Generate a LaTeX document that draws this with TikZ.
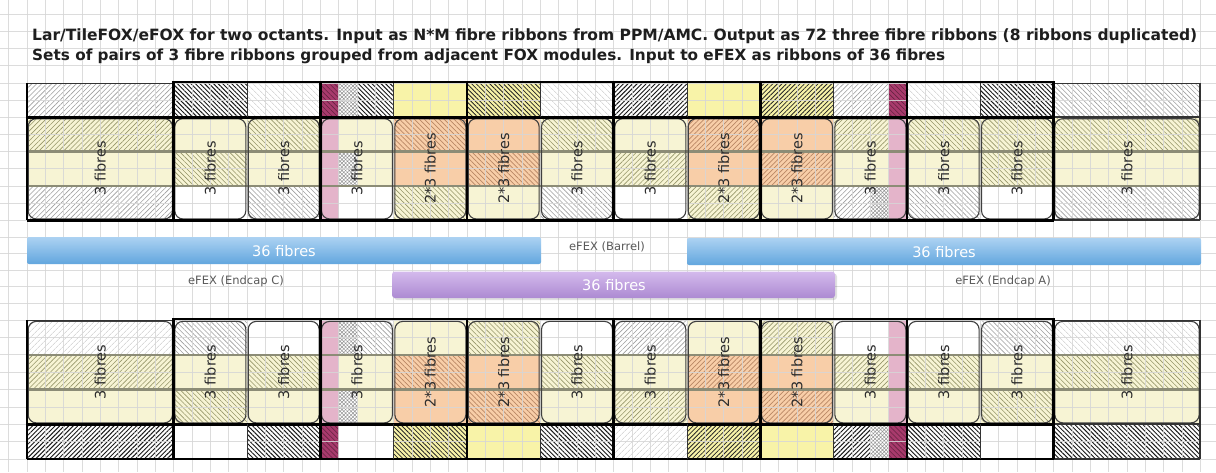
\documentclass[tikz,border=0pt]{standalone}
\usepackage{graphicx}
\usepackage{fontspec}
\setmainfont{DejaVu Sans}
\usetikzlibrary{patterns,patterns.meta}

\definecolor{cream}{RGB}{247,244,212}
\definecolor{yel}{RGB}{248,243,168}
\definecolor{ora}{RGB}{248,206,168}
\definecolor{pinkd}{RGB}{168,58,108}
\definecolor{pinkl}{RGB}{228,180,202}
\definecolor{gridc}{RGB}{214,214,214}
\definecolor{oliveh}{RGB}{150,150,105}
\definecolor{brownh}{RGB}{185,135,100}
\definecolor{sepc}{RGB}{140,140,118}
\definecolor{blueT}{RGB}{172,210,242}
\definecolor{blueB}{RGB}{98,166,222}
\definecolor{purT}{RGB}{212,186,236}
\definecolor{purB}{RGB}{172,138,210}
\definecolor{titlec}{RGB}{30,30,30}
\definecolor{labc}{RGB}{45,45,45}

\newcommand\mycl[5]{\path[#5] ({27+18.3333*#1},#3) rectangle ({27+18.3333*#2},#4);}
\def\yTa{83}\def\yTb{117.3}\def\yTc{151.6}\def\yTd{186}\def\yTe{220.3}
\def\yBa{320}\def\yBb{354.75}\def\yBc{389.5}\def\yBd{424.25}\def\yBe{459}

\tikzset{
  sW/.style={fill=white},
  sF/.style={fill=white,postaction={pattern color=gray!45,pattern={Lines[angle=#1,distance=4pt,line width=.5pt]}}},
  sL/.style={fill=white,postaction={pattern color=gray!75,pattern={Lines[angle=#1,distance=3.5pt,line width=.6pt]}}},
  sD/.style={fill=white,postaction={pattern color=black!90,pattern={Lines[angle=#1,distance=3.2pt,line width=.95pt]}}},
  sY/.style={fill=yel},
  sYD/.style={fill=yel,postaction={pattern color=black!85,pattern={Lines[angle=#1,distance=3.2pt,line width=.8pt]}}},
  sC/.style={fill=cream},
  sCH/.style={fill=cream,postaction={pattern color=oliveh,pattern={Lines[angle=#1,distance=3.5pt,line width=.6pt]}}},
  sO/.style={fill=ora},
  sOH/.style={fill=ora,postaction={pattern color=brownh,pattern={Lines[angle=#1,distance=3.5pt,line width=.7pt]}}},
  sP/.style={fill=pinkd,postaction={pattern color=pinkd!60!black,pattern={Lines[angle=-45,distance=3.5pt,line width=.6pt]}}},
  sPL/.style={fill=pinkl},
  sX/.style={fill=white,postaction={pattern color=gray!85,pattern={Hatch[angle=45,distance=2.6pt,line width=.5pt]}}},
  boxst/.style={draw=black!75,line width=1.1pt,rounded corners=8pt},
  thickln/.style={line width=2.8pt,black},
  medln/.style={line width=1.8pt,black!80},
  thinln/.style={line width=1pt,black!80},
  sepln/.style={line width=2.4pt,sepc},
  lab/.style={rotate=90,text=labc,font=\fontsize{14.5}{16}\selectfont,inner sep=0pt},
  barlab/.style={text=white,font=\fontsize{14.5}{16}\selectfont,inner sep=0pt},
  efex/.style={text=black!65,font=\fontsize{11.5}{13}\selectfont,inner sep=0pt},
}

\begin{document}
\begin{tikzpicture}[x=1pt,y=-1pt]
\useasboundingbox (0,0) rectangle (1216,472);
\fill[white] (0,0) rectangle (1216,472);

% ===== top block cells =====
% top row
\mycl{0}{8}{\yTa}{\yTb}{sL=45}
\mycl{8}{12}{\yTa}{\yTb}{sD=-45}
\mycl{12}{16}{\yTa}{\yTb}{sF=-45}
\mycl{16}{17}{\yTa}{\yTb}{sP}
\mycl{17}{18}{\yTa}{\yTb}{sX}
\mycl{18}{20}{\yTa}{\yTb}{sD=-45}
\mycl{20}{24}{\yTa}{\yTb}{sY}
\mycl{24}{28}{\yTa}{\yTb}{sYD=-45}
\mycl{28}{32}{\yTa}{\yTb}{sF=-45}
\mycl{32}{36}{\yTa}{\yTb}{sD=45}
\mycl{36}{40}{\yTa}{\yTb}{sY}
\mycl{40}{44}{\yTa}{\yTb}{sYD=45}
\mycl{44}{47}{\yTa}{\yTb}{sL=45}
\mycl{47}{48}{\yTa}{\yTb}{sP}
\mycl{48}{52}{\yTa}{\yTb}{sF=-45}
\mycl{52}{56}{\yTa}{\yTb}{sD=-45}
\mycl{56}{64}{\yTa}{\yTb}{sL=-45}
% band 1
\mycl{0}{8}{\yTb}{\yTc}{sCH=45}
\mycl{8}{12}{\yTb}{\yTc}{sC}
\mycl{12}{16}{\yTb}{\yTc}{sCH=-45}
\mycl{16}{17}{\yTb}{\yTc}{sPL}
\mycl{17}{20}{\yTb}{\yTc}{sC}
\mycl{20}{24}{\yTb}{\yTc}{sOH=-45}
\mycl{24}{28}{\yTb}{\yTc}{sO}
\mycl{28}{32}{\yTb}{\yTc}{sCH=-45}
\mycl{32}{36}{\yTb}{\yTc}{sC}
\mycl{36}{40}{\yTb}{\yTc}{sOH=45}
\mycl{40}{44}{\yTb}{\yTc}{sO}
\mycl{44}{47}{\yTb}{\yTc}{sCH=45}
\mycl{47}{48}{\yTb}{\yTc}{sPL}
\mycl{48}{52}{\yTb}{\yTc}{sCH=-45}
\mycl{52}{56}{\yTb}{\yTc}{sCH=-45}
\mycl{56}{64}{\yTb}{\yTc}{sCH=-45}
% band 2
\mycl{0}{8}{\yTc}{\yTd}{sC}
\mycl{8}{12}{\yTc}{\yTd}{sCH=-45}
\mycl{12}{16}{\yTc}{\yTd}{sC}
\mycl{16}{17}{\yTc}{\yTd}{sPL}
\mycl{17}{18}{\yTc}{\yTd}{sX}
\mycl{18}{20}{\yTc}{\yTd}{sC}
\mycl{20}{24}{\yTc}{\yTd}{sO}
\mycl{24}{28}{\yTc}{\yTd}{sOH=-45}
\mycl{28}{32}{\yTc}{\yTd}{sC}
\mycl{32}{36}{\yTc}{\yTd}{sCH=45}
\mycl{36}{40}{\yTc}{\yTd}{sO}
\mycl{40}{44}{\yTc}{\yTd}{sOH=45}
\mycl{44}{47}{\yTc}{\yTd}{sC}
\mycl{47}{48}{\yTc}{\yTd}{sPL}
\mycl{48}{52}{\yTc}{\yTd}{sC}
\mycl{52}{56}{\yTc}{\yTd}{sCH=-45}
\mycl{56}{64}{\yTc}{\yTd}{sC}
% band 3
\mycl{0}{8}{\yTd}{\yTe}{sL=45}
\mycl{8}{12}{\yTd}{\yTe}{sW}
\mycl{12}{16}{\yTd}{\yTe}{sL=-45}
\mycl{16}{17}{\yTd}{\yTe}{sPL}
\mycl{17}{20}{\yTd}{\yTe}{sW}
\mycl{20}{24}{\yTd}{\yTe}{sCH=-45}
\mycl{24}{28}{\yTd}{\yTe}{sC}
\mycl{28}{32}{\yTd}{\yTe}{sL=-45}
\mycl{32}{36}{\yTd}{\yTe}{sW}
\mycl{36}{40}{\yTd}{\yTe}{sCH=45}
\mycl{40}{44}{\yTd}{\yTe}{sC}
\mycl{44}{46}{\yTd}{\yTe}{sL=45}
\mycl{46}{47}{\yTd}{\yTe}{sX}
\mycl{47}{48}{\yTd}{\yTe}{sPL}
\mycl{48}{52}{\yTd}{\yTe}{sL=-45}
\mycl{52}{56}{\yTd}{\yTe}{sW}
\mycl{56}{64}{\yTd}{\yTe}{sL=-45}

% ===== bottom block cells =====
% band 1
\mycl{0}{8}{\yBa}{\yBb}{sF=45}
\mycl{8}{12}{\yBa}{\yBb}{sL=-45}
\mycl{12}{16}{\yBa}{\yBb}{sW}
\mycl{16}{17}{\yBa}{\yBb}{sPL}
\mycl{17}{18}{\yBa}{\yBb}{sX}
\mycl{18}{20}{\yBa}{\yBb}{sL=-45}
\mycl{20}{24}{\yBa}{\yBb}{sC}
\mycl{24}{28}{\yBa}{\yBb}{sCH=-45}
\mycl{28}{32}{\yBa}{\yBb}{sW}
\mycl{32}{36}{\yBa}{\yBb}{sL=45}
\mycl{36}{40}{\yBa}{\yBb}{sC}
\mycl{40}{44}{\yBa}{\yBb}{sCH=45}
\mycl{44}{47}{\yBa}{\yBb}{sW}
\mycl{47}{48}{\yBa}{\yBb}{sPL}
\mycl{48}{52}{\yBa}{\yBb}{sW}
\mycl{52}{56}{\yBa}{\yBb}{sL=-45}
\mycl{56}{64}{\yBa}{\yBb}{sF=-45}
% band 2
\mycl{0}{8}{\yBb}{\yBc}{sCH=45}
\mycl{8}{12}{\yBb}{\yBc}{sC}
\mycl{12}{16}{\yBb}{\yBc}{sCH=-45}
\mycl{16}{17}{\yBb}{\yBc}{sPL}
\mycl{17}{20}{\yBb}{\yBc}{sC}
\mycl{20}{24}{\yBb}{\yBc}{sOH=-45}
\mycl{24}{28}{\yBb}{\yBc}{sO}
\mycl{28}{32}{\yBb}{\yBc}{sCH=-45}
\mycl{32}{36}{\yBb}{\yBc}{sC}
\mycl{36}{40}{\yBb}{\yBc}{sOH=45}
\mycl{40}{44}{\yBb}{\yBc}{sO}
\mycl{44}{47}{\yBb}{\yBc}{sCH=45}
\mycl{47}{48}{\yBb}{\yBc}{sPL}
\mycl{48}{52}{\yBb}{\yBc}{sCH=-45}
\mycl{52}{56}{\yBb}{\yBc}{sC}
\mycl{56}{64}{\yBb}{\yBc}{sCH=-45}
% band 3
\mycl{0}{8}{\yBc}{\yBd}{sC}
\mycl{8}{12}{\yBc}{\yBd}{sCH=-45}
\mycl{12}{16}{\yBc}{\yBd}{sC}
\mycl{16}{17}{\yBc}{\yBd}{sPL}
\mycl{17}{18}{\yBc}{\yBd}{sX}
\mycl{18}{20}{\yBc}{\yBd}{sC}
\mycl{20}{24}{\yBc}{\yBd}{sO}
\mycl{24}{28}{\yBc}{\yBd}{sOH=-45}
\mycl{28}{32}{\yBc}{\yBd}{sC}
\mycl{32}{36}{\yBc}{\yBd}{sCH=45}
\mycl{36}{40}{\yBc}{\yBd}{sO}
\mycl{40}{44}{\yBc}{\yBd}{sOH=45}
\mycl{44}{47}{\yBc}{\yBd}{sC}
\mycl{47}{48}{\yBc}{\yBd}{sPL}
\mycl{48}{52}{\yBc}{\yBd}{sC}
\mycl{52}{56}{\yBc}{\yBd}{sCH=-45}
\mycl{56}{64}{\yBc}{\yBd}{sC}
% bottom row
\mycl{0}{8}{\yBd}{\yBe}{sD=45}
\mycl{8}{12}{\yBd}{\yBe}{sW}
\mycl{12}{16}{\yBd}{\yBe}{sD=-45}
\mycl{16}{17}{\yBd}{\yBe}{sP}
\mycl{17}{20}{\yBd}{\yBe}{sW}
\mycl{20}{24}{\yBd}{\yBe}{sYD=-45}
\mycl{24}{28}{\yBd}{\yBe}{sY}
\mycl{28}{32}{\yBd}{\yBe}{sD=-45}
\mycl{32}{36}{\yBd}{\yBe}{sF=45}
\mycl{36}{40}{\yBd}{\yBe}{sYD=45}
\mycl{40}{44}{\yBd}{\yBe}{sY}
\mycl{44}{46}{\yBd}{\yBe}{sD=45}
\mycl{46}{47}{\yBd}{\yBe}{sX}
\mycl{47}{48}{\yBd}{\yBe}{sP}
\mycl{48}{52}{\yBd}{\yBe}{sD=-45}
\mycl{52}{56}{\yBd}{\yBe}{sW}
\mycl{56}{64}{\yBd}{\yBe}{sD=-45}

% ===== spreadsheet grid =====
\foreach \n in {-1,...,65}
  \draw[gridc,line width=.8pt,opacity=.85] ({27+18.3333*\n},0) -- ({27+18.3333*\n},472);
\foreach \y in {14.4,31.55,48.7,65.85,83,100.15,117.3,134.45,151.6,168.75,186,203.15,220.3,236.9,253.5,270.1,286.7,303.3,320,337.4,354.75,372.1,389.5,406.9,424.25,441.6,459}
  \draw[gridc,line width=.8pt,opacity=.85] (0,\y) -- (1216,\y);

% ===== band separators =====
\foreach \y in {\yTc,\yTd,\yBb,\yBc}
  \draw[sepln] (27,\y) -- (1200,\y);

% ===== rounded ribbon boxes =====
\foreach \a/\b in {0/8,8/12,12/16,16/20,20/24,24/28,28/32,32/36,36/40,40/44,44/48,48/52,52/56,56/64}{
  \draw[boxst] ({27+18.3333*\a+1.2},{\yTb+1.4}) rectangle ({27+18.3333*\b-1.2},{\yTe-1.4});
  \draw[boxst] ({27+18.3333*\a+1.2},{\yBa+1.4}) rectangle ({27+18.3333*\b-1.2},{\yBd-1.4});
}

% ===== frames: top block =====
\draw[thinln] (27,\yTa) -- ({27+18.3333*8},\yTa);
\draw[thinln] ({27+18.3333*56},\yTa) -- (1200,\yTa);
\draw[thickln] ({27+18.3333*8},{\yTa-1}) -- ({27+18.3333*56},{\yTa-1});
\draw[thickln] (27,\yTa) -- (27,\yTe);
\draw[medln] (1200,\yTa) -- (1200,\yTe);
\draw[thickln] (27,\yTb) -- ({27+18.3333*56},\yTb);
\draw[medln] ({27+18.3333*56},\yTb) -- (1200,\yTb);
\draw[thickln] (27,\yTe) -- ({27+18.3333*56},\yTe);
\draw[medln] ({27+18.3333*56},\yTe) -- (1200,\yTe);
\foreach \n in {8,16,24,32,40,48,56}
  \draw[thickln] ({27+18.3333*\n},{\yTa-2}) -- ({27+18.3333*\n},\yTe);
\foreach \n in {12,20,28,36,44,52}
  \draw[thinln] ({27+18.3333*\n},\yTa) -- ({27+18.3333*\n},\yTb);

% ===== frames: bottom block =====
\draw[thinln] (27,\yBa) -- ({27+18.3333*8},\yBa);
\draw[thinln] ({27+18.3333*56},\yBa) -- (1200,\yBa);
\draw[thickln] ({27+18.3333*8},{\yBa-1}) -- ({27+18.3333*56},{\yBa-1});
\draw[thickln] (27,\yBa) -- (27,\yBe);
\draw[medln] (1200,\yBa) -- (1200,\yBe);
\draw[thickln] (27,\yBd) -- ({27+18.3333*56},\yBd);
\draw[medln] ({27+18.3333*56},\yBd) -- (1200,\yBd);
\draw[thickln] (27,\yBe) -- ({27+18.3333*56},\yBe);
\draw[medln] ({27+18.3333*56},\yBe) -- (1200,\yBe);
\foreach \n in {8,16,24,32,40,48,56}
  \draw[thickln] ({27+18.3333*\n},{\yBa-2}) -- ({27+18.3333*\n},\yBe);
\foreach \n in {12,20,28,36,44,52}
  \draw[thinln] ({27+18.3333*\n},\yBd) -- ({27+18.3333*\n},\yBe);

% ===== box labels =====
\foreach \a/\b/\t [count=\i] in {0/8/3 fibres,8/12/3 fibres,12/16/3 fibres,16/20/3 fibres,20/24/2*3 fibres,24/28/2*3 fibres,28/32/3 fibres,32/36/3 fibres,36/40/2*3 fibres,40/44/2*3 fibres,44/48/3 fibres,48/52/3 fibres,52/56/3 fibres,56/64/3 fibres}{
  \node[lab] (lt\i) at ({27+18.3333*(\a+\b)/2},168.5) {\t};
  \node[lab] (lb\i) at ({27+18.3333*(\a+\b)/2},372) {\t};
}

% ===== eFEX bars =====
\shade[top color=blueT,bottom color=blueB,rounded corners=2pt] (27,237) rectangle (541,264);
\shade[top color=blueT,bottom color=blueB,rounded corners=2pt] (687,238) rectangle (1201,265);
\fill[black,opacity=.12,rounded corners=3pt] (394,273.5) rectangle (837,300);
\shade[top color=purT,bottom color=purB,rounded corners=3pt] (392,271.5) rectangle (835,298);
\node[barlab] (bl) at (284,251) {36 fibres};
\node[barlab] (br) at (944,252) {36 fibres};
\node[barlab] (bm) at (614,285.5) {36 fibres};
\node[efex] (eb) at (607,246.5) {eFEX (Barrel)};
\node[efex] (ec) at (236,281.5) {eFEX (Endcap C)};
\node[efex] (ea) at (1003,281.5) {eFEX (Endcap A)};

% ===== title =====
\node[anchor=base west,inner sep=0pt,text=titlec] (t1) at (32,40)
  {\resizebox{1165pt}{!}{\bfseries\fontsize{14}{16}\selectfont Lar/TileFOX/eFOX for two octants. Input as N*M fibre ribbons from PPM/AMC. Output as 72 three fibre ribbons (8 ribbons duplicated)}};
\node[anchor=base west,inner sep=0pt,text=titlec] (t2) at (32,60)
  {\resizebox{913pt}{!}{\bfseries\fontsize{14}{16}\selectfont Sets of pairs of 3 fibre ribbons grouped from adjacent FOX modules. Input to eFEX as ribbons of 36 fibres}};
\end{tikzpicture}
\end{document}
